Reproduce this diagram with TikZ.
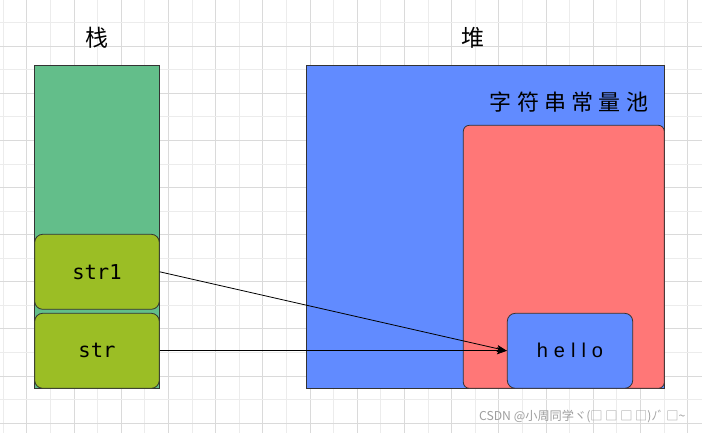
\documentclass[tikz,border=0pt]{standalone}
\usepackage{fontspec}
\usepackage{tikz}
\usetikzlibrary{arrows.meta}
\newfontfamily\cjk[LetterSpace=24]{Noto Sans CJK SC}
\newfontfamily\markfont{Noto Sans CJK SC}
\newfontfamily\codefont{DejaVu Sans Mono}
\newfontfamily\hellofont[LetterSpace=30]{Liberation Sans}
\definecolor{gridminor}{RGB}{236,236,236}
\definecolor{gridmajor}{RGB}{218,218,218}
\definecolor{stackgreen}{RGB}{99,190,138}
\definecolor{heapblue}{RGB}{97,139,255}
\definecolor{poolred}{RGB}{255,119,119}
\definecolor{slotgreen}{RGB}{155,190,37}
\definecolor{edge}{RGB}{51,51,51}

\begin{document}
\begin{tikzpicture}[x=1pt, y=-1pt,
	area/.style={draw=edge, line width=0.8pt, inner sep=0pt},
	slot/.style={area, rounded corners=8pt, fill=slotgreen, minimum width=124.6pt, minimum height=75pt, font=\codefont\fontsize{20.5}{24}\selectfont},
	ptr/.style={line width=0.8pt, -{Stealth[length=10pt, width=7pt, inset=2pt]}}]
			%%%%% START %%%%%
			
			\useasboundingbox (0, 0) rectangle (702, 433);
			\fill[white] (0, 0) rectangle (702, 433);
			
			% grid
			\foreach \k in {0,...,29} {
				\pgfmathtruncatemacro{\odd}{mod(\k,2)}
				\ifnum\odd=1 \def\gc{gridmajor}\else\def\gc{gridminor}\fi
				\draw[\gc, line width=0.8pt] (3.1+23.6*\k, 0) -- (3.1+23.6*\k, 433);
			}
			\foreach \k in {1,...,18} {
				\pgfmathtruncatemacro{\odd}{mod(\k,2)}
				\ifnum\odd=0 \def\gc{gridmajor}\else\def\gc{gridminor}\fi
				\draw[\gc, line width=0.8pt] (0, -0.85+23.55*\k) -- (702, -0.85+23.55*\k);
			}
			
			% stack and heap
			\node[area, fill=stackgreen, minimum width=124.6pt, minimum height=323pt] (stack) at (97, 226.8) {};
			\node[area, fill=heapblue, minimum width=357.6pt, minimum height=323pt] (heap) at (485.5, 226.8) {};
			\node[area, fill=poolred, rounded corners=6pt, minimum width=201pt, minimum height=263pt] (pool) at (563.8, 256.8) {};
			
			\node[font=\cjk\fontsize{23}{26}\selectfont] (stacklabel) at (97, 38) {栈};
			\node[font=\cjk\fontsize{23}{26}\selectfont] (heaplabel) at (473, 38) {堆};
			\node[font=\cjk\fontsize{22}{26}\selectfont] (poollabel) at (569, 102) {字符串常量池};
			
			% references
			\node[slot] (strone) at (97, 271.8) {str1};
			\node[slot] (str) at (97, 350.8) {str};
			\node[slot, fill=heapblue, minimum width=125.4pt, font=\hellofont\fontsize{20}{24}\selectfont] (hello) at (570, 350.8) {hello};
			
			\draw[ptr] (strone.east) -- (hello.west);
			\draw[ptr] (str.east) -- (hello.west);
			
			\node[anchor=east, text=black!38, font=\markfont\fontsize{12.2}{14}\selectfont] (mark) at (689, 416.7) {CSDN @小周同学ヾ(□ □ □ □)ﾉﾞ □\textasciitilde};
			
			%%%%% END %%%%%
		\end{tikzpicture}
\end{document}
